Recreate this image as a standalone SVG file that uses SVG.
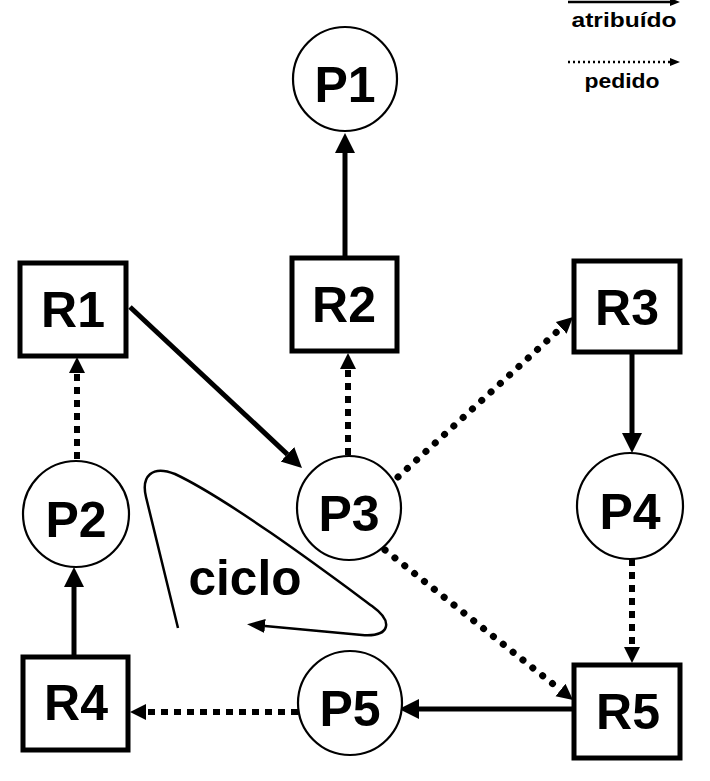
<svg xmlns="http://www.w3.org/2000/svg" width="710" height="781" viewBox="0 0 710 781">
<style>
.box{fill:#fff;stroke:#000;stroke-width:5}
.circ{fill:#fff;stroke:#000;stroke-width:2.2}
.lbl{font-family:"Liberation Sans",Arial,sans-serif;font-weight:bold;font-size:50px;text-anchor:middle;fill:#000}
.leg{font-family:"Liberation Sans",Arial,sans-serif;font-weight:bold;font-size:20px;text-anchor:middle;fill:#000}
.solid{stroke:#000;stroke-width:5;fill:none;marker-end:url(#a)}
.dash{stroke:#000;stroke-width:6;fill:none;stroke-dasharray:7 6;marker-end:url(#d)}
.dots{stroke:#000;stroke-width:7;fill:none;stroke-linecap:round;stroke-dasharray:0.1 12.5;marker-end:url(#d)}
</style>
<defs>
<marker id="a" viewBox="0 -11 20 22" markerWidth="20" markerHeight="22" refX="0" refY="0" orient="auto" markerUnits="userSpaceOnUse"><path d="M0,-10 L20,0 L0,10 z" fill="#000"/></marker>
<marker id="d" viewBox="0 -9 16 18" markerWidth="16" markerHeight="18" refX="0" refY="0" orient="auto" markerUnits="userSpaceOnUse"><path d="M0,-8 L16,0 L0,8 z" fill="#000"/></marker>
<marker id="c" viewBox="0 -8 18 16" markerWidth="18" markerHeight="16" refX="0" refY="0" orient="auto" markerUnits="userSpaceOnUse"><path d="M0,-7 L18,0 L0,7 z" fill="#000"/></marker>
<marker id="s" viewBox="0 -5 10 10" markerWidth="10" markerHeight="10" refX="0" refY="0" orient="auto" markerUnits="userSpaceOnUse"><path d="M0,-4 L10,0 L0,4 z" fill="#000"/></marker>
</defs>
<rect width="710" height="781" fill="#fff"/>
<g id="legend">
<line x1="568" y1="2" x2="670" y2="2" stroke="#000" stroke-width="2.5" marker-end="url(#s)"/>
<text class="leg" x="624" y="27" textLength="105" lengthAdjust="spacingAndGlyphs">atribuído</text>
<line x1="568" y1="62" x2="670" y2="62" stroke="#000" stroke-width="2.5" stroke-dasharray="2 3" marker-end="url(#s)"/>
<text class="leg" x="622" y="88" textLength="75" lengthAdjust="spacingAndGlyphs">pedido</text>
</g>
<g id="connectors">
<line class="solid" x1="345" y1="258" x2="345" y2="153"/>
<line class="solid" x1="130" y1="307" x2="287.4" y2="454.3"/>
<line class="dash" x1="77" y1="459" x2="77" y2="373"/>
<line class="dash" x1="348" y1="455" x2="348" y2="369"/>
<line class="dots" x1="398" y1="477" x2="561.2" y2="327.8"/>
<line class="solid" x1="632" y1="352" x2="632" y2="433"/>
<line class="dash" x1="632" y1="559" x2="632" y2="647"/>
<line class="dots" x1="385" y1="550" x2="560.5" y2="690"/>
<line class="solid" x1="574" y1="709" x2="419" y2="709"/>
<line class="dash" x1="298" y1="712" x2="146" y2="712"/>
<line class="solid" x1="74" y1="657" x2="74" y2="587"/>
</g>
<g id="cycle">
<path d="M178,628 L146,497 C141,476 152,465 175,474 C230,500 330,575 372,606 C394,622 390,637 362,635 L265,626" fill="none" stroke="#000" stroke-width="2.5" marker-end="url(#c)"/>
<text class="lbl" x="245" y="595" font-size="48" textLength="113" lengthAdjust="spacingAndGlyphs">ciclo</text>
</g>
<g id="P1"><circle class="circ" cx="345" cy="79" r="52"/><text class="lbl" x="345" y="102">P1</text></g>
<g id="R1"><rect class="box" x="20" y="263" width="106" height="93"/><text class="lbl" x="73" y="327">R1</text></g>
<g id="R2"><rect class="box" x="292" y="258" width="105" height="93"/><text class="lbl" x="344" y="322">R2</text></g>
<g id="R3"><rect class="box" x="574" y="261" width="106" height="91"/><text class="lbl" x="627" y="325">R3</text></g>
<g id="P2"><circle class="circ" cx="76" cy="514" r="53"/><text class="lbl" x="76" y="537">P2</text></g>
<g id="P3"><circle class="circ" cx="349" cy="508" r="52"/><text class="lbl" x="349" y="531">P3</text></g>
<g id="P4"><circle class="circ" cx="630" cy="506" r="53"/><text class="lbl" x="630" y="529">P4</text></g>
<g id="R4"><rect class="box" x="23" y="657" width="105" height="93"/><text class="lbl" x="76" y="720">R4</text></g>
<g id="P5"><circle class="circ" cx="350" cy="703" r="52"/><text class="lbl" x="350" y="726">P5</text></g>
<g id="R5"><rect class="box" x="574" y="665" width="106" height="93"/><text class="lbl" x="628" y="729">R5</text></g>
</svg>
